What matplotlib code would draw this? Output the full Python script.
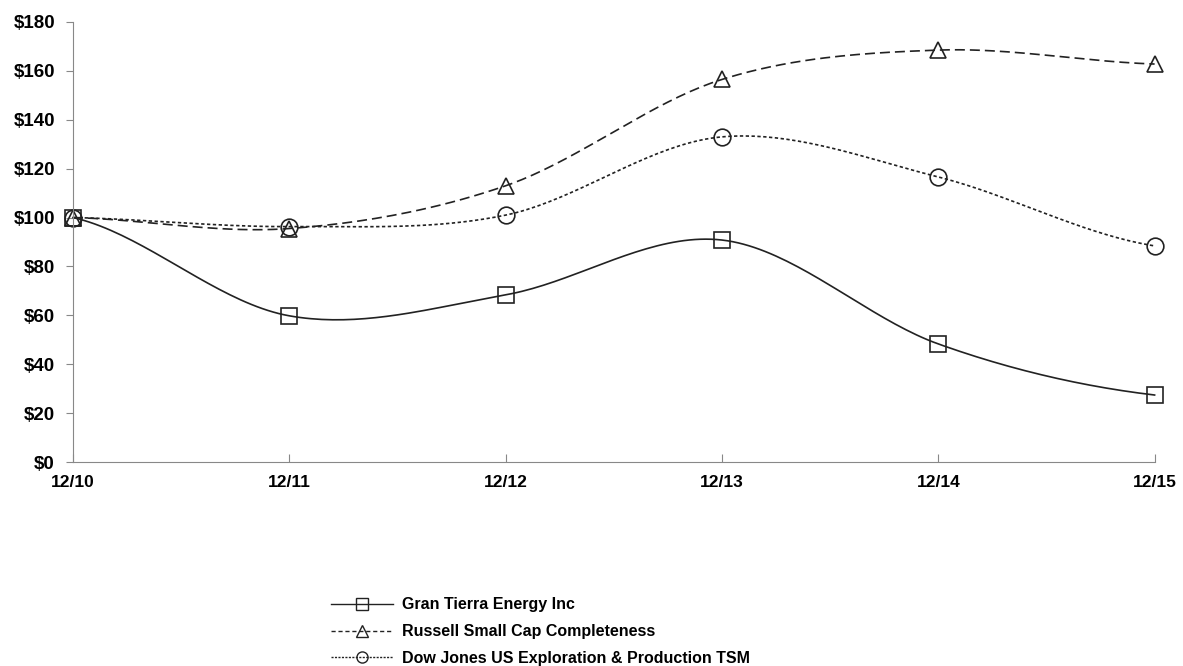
import numpy as np
import matplotlib.pyplot as plt

plt.rcParams['font.family'] = ['Liberation Sans', 'DejaVu Sans']

periods = ['12/10', '12/11', '12/12', '12/13', '12/14', '12/15']
gran_tierra = [100, 59.8, 68.4, 90.8, 48.3, 27.4]
russell = [100, 95.5, 113.0, 156.5, 168.5, 162.8]
dow_jones = [100, 96.3, 101.0, 133.0, 116.6, 88.4]


def smooth(y, n=40):
    # Excel-style smoothed line (Catmull-Rom between the points)
    y = np.asarray(y, dtype=float)
    x = np.arange(len(y), dtype=float)
    xs, ys = [], []
    for i in range(len(y) - 1):
        p0 = y[i - 1] if i > 0 else y[i]
        p3 = y[i + 2] if i + 2 < len(y) else y[i + 1]
        p1, p2 = y[i], y[i + 1]
        t = np.linspace(0, 1, n, endpoint=False)
        ys.extend(0.5 * ((2 * p1) + (-p0 + p2) * t + (2 * p0 - 5 * p1 + 4 * p2 - p3) * t**2
                         + (-p0 + 3 * p1 - 3 * p2 + p3) * t**3))
        xs.extend(x[i] + t)
    xs.append(x[-1])
    ys.append(y[-1])
    return np.array(xs), np.array(ys)


fig = plt.figure(figsize=(11.83, 6.66), dpi=100)
ax = fig.add_axes([0.0617, 0.3063, 0.9143, 0.6607])

series = [
    ('Gran Tierra Energy Inc', gran_tierra, '-', 's', (0, (3, 2))),
    ('Russell Small Cap Completeness', russell, (0, (6, 3)), '^', (0, (3, 2))),
    ('Dow Jones US Exploration & Production TSM', dow_jones, (0, (2, 1.5)), 'o', (0, (1.5, 1))),
]
handles = []
x = np.arange(len(periods))
for label, vals, ls, mk, leg_ls in series:
    sx, sy = smooth(vals)
    ax.plot(sx, sy, color='#222222', linestyle=ls, linewidth=1.2)
    ax.plot(x, vals, linestyle='none', marker=mk, markersize=12,
            markerfacecolor='none', markeredgecolor='#222222', markeredgewidth=1.2)
    h, = ax.plot([], [], color='#222222', linestyle=ls if ls == '-' else leg_ls,
                 linewidth=1.0, marker=mk, markersize=8, markerfacecolor='none',
                 markeredgecolor='#222222', label=label)
    handles.append(h)

ax.set_xlim(0, len(periods) - 1)
ax.set_ylim(0, 180)
ax.set_yticks(range(0, 181, 20))
ax.set_yticklabels(['$%d' % v for v in range(0, 181, 20)], fontsize=13.5, fontweight='bold')
ax.set_xticks(x)
ax.set_xticklabels(periods, fontsize=12.5, fontweight='bold')
ax.tick_params(axis='x', direction='in', length=6, color='#888888', pad=9)
ax.tick_params(axis='y', direction='out', length=5, color='#888888', pad=8)
for s in ['top', 'right']:
    ax.spines[s].set_visible(False)
for s in ['left', 'bottom']:
    ax.spines[s].set_color('#888888')
for ln in ax.lines:
    ln.set_clip_on(False)

fig.legend(handles=handles, loc='upper left', bbox_to_anchor=(0.274, 0.113),
           frameon=False, handlelength=3.9, handletextpad=0.6, labelspacing=0.75,
           prop={'size': 11.5, 'weight': 'bold'}, borderaxespad=0)

fig.savefig('out.png', dpi=100)
